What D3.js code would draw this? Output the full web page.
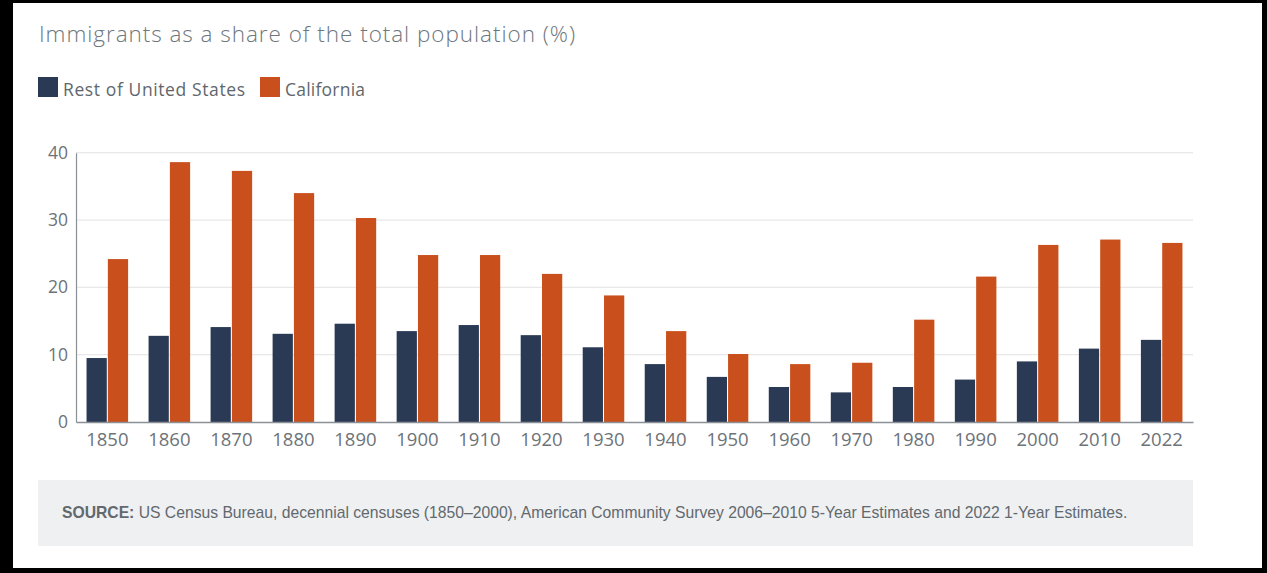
<!DOCTYPE html>
<html>
<head>
<meta charset="utf-8">
<script src="https://cdn.jsdelivr.net/npm/d3@7.9.0/dist/d3.min.js"></script>
<style>
  html, body { margin: 0; padding: 0; background: #fff; }
  svg { display: block; }
</style>
</head>
<body>
<svg id="chart" width="1267" height="573"></svg>
<script>
/* ---- data ---- */
const years    = ['1850','1860','1870','1880','1890','1900','1910','1920','1930',
                  '1940','1950','1960','1970','1980','1990','2000','2010','2022'];
const restOfUS = [9.5, 12.8, 14.1, 13.1, 14.6, 13.5, 14.4, 12.9, 11.1,
                  8.6, 6.7, 5.2, 4.4, 5.2, 6.3, 9.0, 10.9, 12.2];
const california = [24.2, 38.6, 37.3, 34.0, 30.3, 24.8, 24.8, 22.0, 18.8,
                    13.5, 10.1, 8.6, 8.8, 15.2, 21.6, 26.3, 27.1, 26.6];
const seriesNames = ['Rest of United States', 'California'];
const yTicks = [0, 10, 20, 30, 40];

const colors = d3.scaleOrdinal().domain(seriesNames).range(['#2a3a55', '#c9501c']);

const rows = years.map((y, i) => ({ year: y, values: [restOfUS[i], california[i]] }));

/* ---- layout ---- */
const W = 1267, H = 573;
const plot = { left: 76, right: 1193, top: 152.7, bottom: 422 };
const font = '"Open Sans", sans-serif';

const svg = d3.select('#chart');

// frame
svg.append('rect').attr('x', 0).attr('y', 0).attr('width', W).attr('height', H).attr('fill', '#000');
svg.append('rect').attr('x', 13).attr('y', 3).attr('width', 1249).attr('height', 565).attr('fill', '#fff');

// title
svg.append('text')
   .attr('x', 39).attr('y', 42)
   .attr('font-family', font).attr('font-size', 22.5).attr('font-weight', 300)
   .attr('fill', '#6d777d')
   .attr('textLength', 536).attr('lengthAdjust', 'spacing')
   .text('Immigrants as a share of the total population (%)');

// legend
const legend = svg.append('g').attr('transform', 'translate(38,77)');
const legX = [0, 222];
const legW = [182, 80];
seriesNames.forEach((name, i) => {
  const g = legend.append('g').attr('transform', `translate(${legX[i]},0)`);
  g.append('rect').attr('width', 20).attr('height', 20).attr('fill', colors(name));
  g.append('text').attr('x', 25).attr('y', 18.5)
   .attr('font-family', font).attr('font-size', 17.5).attr('fill', '#5f676c')
   .attr('textLength', legW[i]).attr('lengthAdjust', 'spacing')
   .text(name);
});

/* ---- scales ---- */
const x0 = d3.scaleBand().domain(years)
  .range([plot.left, plot.right]).paddingInner(0.33).paddingOuter(0.17);
const x1 = d3.scaleBand().domain([0, 1]).range([0, x0.bandwidth()]).paddingInner(0.05);
const y  = d3.scaleLinear().domain([0, 40]).range([plot.bottom, plot.top]);

// gridlines
svg.append('g')
   .selectAll('line').data(yTicks.filter(t => t > 0)).join('line')
   .attr('x1', plot.left).attr('x2', plot.right)
   .attr('y1', d => y(d)).attr('y2', d => y(d))
   .attr('stroke', '#e8e8e8').attr('stroke-width', 1.2);

// y axis
const yAxis = svg.append('g')
  .attr('transform', `translate(${plot.left},0)`)
  .call(d3.axisLeft(y).tickValues(yTicks).tickSize(0).tickPadding(8));
yAxis.select('.domain').attr('stroke', '#8a9095').attr('stroke-width', 1.2);
yAxis.selectAll('text').attr('font-family', font).attr('font-size', 17.5).attr('fill', '#6d7378');

// bars
svg.append('g')
   .selectAll('g').data(rows).join('g')
   .attr('transform', d => `translate(${x0(d.year)},0)`)
   .selectAll('rect').data(d => d.values.map((v, i) => ({ v, i }))).join('rect')
   .attr('x', d => x1(d.i))
   .attr('width', x1.bandwidth())
   .attr('y', d => y(d.v))
   .attr('height', d => y(0) - y(d.v))
   .attr('fill', d => colors(seriesNames[d.i]));

// x axis
const xAxis = svg.append('g')
  .attr('transform', `translate(0,${plot.bottom})`)
  .call(d3.axisBottom(x0).tickSize(0).tickPadding(11).tickSizeOuter(0));
xAxis.select('.domain').attr('stroke', '#8a9095').attr('stroke-width', 1.5);
xAxis.selectAll('text').attr('font-family', font).attr('font-size', 18.5).attr('fill', '#6d7378');

// source box
svg.append('rect')
   .attr('x', 38).attr('y', 480).attr('width', 1155).attr('height', 66)
   .attr('fill', '#eff0f2');
const src = svg.append('text')
   .attr('x', 62).attr('y', 518)
   .attr('font-family', '"Liberation Sans", Arial, sans-serif').attr('font-size', 15.7)
   .attr('fill', '#62696e');
src.append('tspan').attr('font-weight', 'bold').text('SOURCE:');
src.append('tspan').text(' US Census Bureau, decennial censuses (1850–2000), American Community Survey 2006–2010 5-Year Estimates and 2022 1-Year Estimates.');
</script>
</body>
</html>
